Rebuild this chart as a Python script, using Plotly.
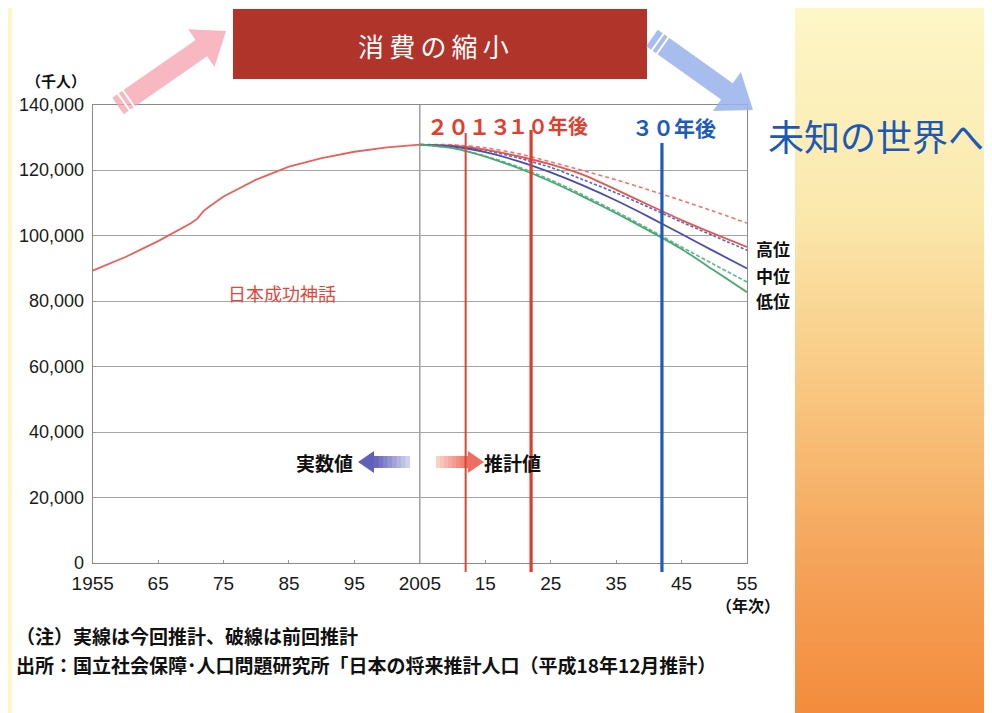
import plotly.graph_objects as go

W, H = 992, 713
OX, OY = 8, 8  # page margin of the browser around the figure

# ---------------- data ----------------
actual_years = [1955, 1960, 1965, 1970, 1971, 1972, 1973, 1974, 1975, 1980, 1985, 1990, 1995, 2000, 2005]
actual_pop = [89276, 93419, 98275, 103720, 105145, 107595, 109104, 110573, 111940, 117060, 121049,
              123611, 125570, 126926, 127768]

proj_years = [2005, 2010, 2015, 2020, 2025, 2030, 2035, 2040, 2045, 2050, 2055]
high_now = [127768, 127400, 126200, 124200, 121700, 118500, 114000, 109300, 104700, 100500, 96500]
mid_now = [127768, 127176, 125430, 122735, 119270, 115224, 110679, 105695, 100443, 95152, 89930]
low_now = [127768, 126700, 124100, 120600, 116500, 111800, 106800, 101500, 95900, 89300, 82700]
high_prev = [127800, 127700, 126800, 125000, 122500, 119800, 117000, 113900, 110700, 107300, 103800]
mid_prev = [127700, 127400, 126000, 123700, 120800, 117000, 113000, 108600, 104100, 99800, 95500]
low_prev = [127700, 126700, 124300, 121000, 117000, 112300, 107300, 102000, 96500, 91100, 85800]

marker_years = [2012, 2022, 2042]
divider_year = 2005

xtick_vals = [1955, 1965, 1975, 1985, 1995, 2005, 2015, 2025, 2035, 2045, 2055]
xtick_text = ["1955", "65", "75", "85", "95", "2005", "15", "25", "35", "45", "55"]
ytick_vals = [0, 20000, 40000, 60000, 80000, 100000, 120000, 140000]

# ---------------- helpers ----------------
def PX(x):
    return (x - OX) / W


def PY(y):
    return 1 - (y - OY) / H


def poly_path(points):
    s = "M " + " L ".join(f"{PX(x):.5f},{PY(y):.5f}" for x, y in points) + " Z"
    return s


def arrow_points(tail, tip, shw, hhw, hl):
    tx, ty = tail
    hx, hy = tip
    dx, dy = hx - tx, hy - ty
    L = (dx * dx + dy * dy) ** 0.5
    ux, uy = dx / L, dy / L
    nx, ny = -uy, ux
    bx, by = hx - ux * hl, hy - uy * hl
    return [
        (tx + nx * shw, ty + ny * shw),
        (bx + nx * shw, by + ny * shw),
        (bx + nx * hhw, by + ny * hhw),
        (hx, hy),
        (bx - nx * hhw, by - ny * hhw),
        (bx - nx * shw, by - ny * shw),
        (tx - nx * shw, ty - ny * shw),
    ]


def lerp_color(c1, c2, t):
    return "rgb(%d,%d,%d)" % tuple(round(a + (b - a) * t) for a, b in zip(c1, c2))


shapes = []
annotations = []

# ---------------- background ----------------
yellow = "#fcf8c6"
shapes.append(dict(type="rect", xref="paper", yref="paper", x0=PX(0), x1=PX(12), y0=PY(H + 10), y1=PY(0),
                   fillcolor=yellow, line_width=0, layer="below"))
shapes.append(dict(type="rect", xref="paper", yref="paper", x0=PX(0), x1=PX(796), y0=PY(4), y1=PY(0),
                   fillcolor=yellow, line_width=0, layer="below"))

stops = [(0.0, (253, 247, 200)), (0.3, (251, 232, 172)), (0.55, (248, 198, 128)),
         (0.8, (245, 162, 88)), (1.0, (243, 140, 60))]


def grad(t):
    for (t0, c0), (t1, c1) in zip(stops[:-1], stops[1:]):
        if t <= t1:
            return lerp_color(c0, c1, (t - t0) / (t1 - t0))
    return lerp_color(stops[-1][1], stops[-1][1], 0)


n_strips = 90
for i in range(n_strips):
    y0 = H * i / n_strips
    y1 = H * (i + 1) / n_strips + 0.8
    shapes.append(dict(type="rect", xref="paper", yref="paper", x0=PX(795), x1=PX(W + 10),
                       y0=PY(y1 if i < n_strips - 1 else H + 10), y1=PY(y0),
                       fillcolor=grad((i + 0.5) / n_strips), line_width=0, layer="below"))

# ---------------- title box and big arrows ----------------
shapes.append(dict(type="rect", xref="paper", yref="paper", x0=PX(233), x1=PX(647),
                   y0=PY(79), y1=PY(9), fillcolor="#b1342b", line_width=0, layer="above"))

pink_pts = arrow_points((118, 106), (226, 31), 10, 23, 30)
shapes.append(dict(type="path", xref="paper", yref="paper", path=poly_path(pink_pts),
                   fillcolor="rgba(244,160,172,0.75)", line_width=0, layer="above"))
blue_pts = arrow_points((652, 38), (753, 110), 10, 24, 32)
shapes.append(dict(type="path", xref="paper", yref="paper", path=poly_path(blue_pts),
                   fillcolor="rgba(150,178,234,0.85)", line_width=0, layer="above"))


# stripes at arrow tails
def stripe(tail, tip, d, hw):
    tx, ty = tail
    hx, hy = tip
    dx, dy = hx - tx, hy - ty
    L = (dx * dx + dy * dy) ** 0.5
    ux, uy = dx / L, dy / L
    nx, ny = -uy, ux
    cx, cy = tx + ux * d, ty + uy * d
    return dict(type="line", xref="paper", yref="paper",
                x0=PX(cx + nx * hw), y0=PY(cy + ny * hw), x1=PX(cx - nx * hw), y1=PY(cy - ny * hw),
                line=dict(color="white", width=2), layer="above")


for d in (7, 13):
    shapes.append(stripe((118, 106), (226, 31), d, 12))
    shapes.append(stripe((652, 38), (753, 110), d, 12))

# ---------------- small arrows (実数値 / 推計値) ----------------
def grad_arrow(tail_x, tip_x, yc, c_tail, c_head, shw=6, hhw=11, hl=16, nseg=8):
    direction = 1 if tip_x > tail_x else -1
    base_x = tip_x - direction * hl
    for i in range(nseg):
        xa = tail_x + (base_x - tail_x) * i / nseg
        xb = tail_x + (base_x - tail_x) * (i + 1) / nseg + direction * 0.6
        col = lerp_color(c_tail, c_head, (i + 0.5) / nseg)
        shapes.append(dict(type="rect", xref="paper", yref="paper", x0=PX(min(xa, xb)),
                           x1=PX(max(xa, xb)), y0=PY(yc + shw), y1=PY(yc - shw),
                           fillcolor=col, line_width=0, layer="above"))
    pts = [(base_x, yc - hhw), (tip_x, yc), (base_x, yc + hhw)]
    shapes.append(dict(type="path", xref="paper", yref="paper", path=poly_path(pts),
                       fillcolor=lerp_color(c_tail, c_head, 1.0), line_width=0, layer="above"))


grad_arrow(410, 358, 462, (215, 215, 242), (96, 96, 184))
grad_arrow(436, 484, 462, (251, 214, 206), (238, 110, 100))

# ---------------- divider and marker lines ----------------
shapes.append(dict(type="line", xref="x", yref="paper", x0=divider_year, x1=divider_year,
                   y0=PY(563), y1=PY(104.5), line=dict(color="#6e6e6e", width=1), layer="below"))

marker_styles = [("#e0442f", 2, 133), ("#dd3d2b", 3.2, 130), ("#1c5cbc", 3.2, 143)]
for yr, (col, wid, top) in zip(marker_years, marker_styles):
    shapes.append(dict(type="line", xref="x", yref="paper", x0=yr, x1=yr,
                       y0=PY(572), y1=PY(top), line=dict(color=col, width=wid), layer="above"))

# ---------------- traces ----------------
fig = go.Figure()

series = [
    (high_prev, "#f0746a", "4px,3px", 1.6),
    (mid_prev, "#5564c4", "3px,2px", 1.6),
    (low_prev, "#5db887", "4px,2px", 1.6),
    (high_now, "#e8554b", None, 1.8),
    (mid_now, "#4a4cb4", None, 1.8),
    (low_now, "#4aa873", None, 1.8),
]
for vals, col, dash, wid in series:
    fig.add_trace(go.Scatter(x=proj_years, y=vals, mode="lines",
                             line=dict(color=col, width=wid, dash=dash, shape="spline", smoothing=0.6),
                             hoverinfo="skip", showlegend=False))

fig.add_trace(go.Scatter(x=actual_years, y=actual_pop, mode="lines",
                         line=dict(color="#e9625a", width=1.8),
                         hoverinfo="skip", showlegend=False))

# ---------------- annotations ----------------
CJK = "Noto Sans CJK JP"


def ann(text, x, y, size, color="#111", bold=False, xanchor="center", font=CJK):
    if bold:
        text = "<b>" + text + "</b>"
    annotations.append(dict(text=text, x=PX(x), y=PY(y), xref="paper", yref="paper",
                            xanchor=xanchor, yanchor="middle", showarrow=False,
                            font=dict(family=font, size=size, color=color)))


ann("消\u2009費\u2009の\u2009縮\u2009小", 433, 45, 26, color="white")
ann("未知の世界へ", 876, 135, 36, color="#1b58b8")
ann("（千人）", 56, 80, 15, bold=True)
ann("２０１３", 513, 126, 21, color="#e0402e", bold=True, xanchor="right")
ann("１０年後", 506, 126, 20, color="#e0402e", bold=True, xanchor="left")
ann("３０年後", 630, 127, 21, color="#1c5cbc", bold=True, xanchor="left")
ann("日本成功神話", 282, 293, 18, color="#e2463c")
ann("実数値", 324, 462, 19, bold=True)
ann("推計値", 513, 462, 19, bold=True)
ann("高位", 773, 248, 17, bold=True)
ann("中位", 773, 275, 17, bold=True)
ann("低位", 773, 300, 17, bold=True)
ann("（年次）", 748, 605, 16, bold=True)
ann("（注）実線は今回推計、破線は前回推計", 14, 635, 19, bold=True, xanchor="left")
ann("出所：国立社会保障･人口問題研究所「日本の将来推計人口（平成18年12月推計）", 14, 664, 19,
    bold=True, xanchor="left")

# ---------------- layout ----------------
fig.update_layout(
    width=W, height=H,
    margin=dict(l=0, r=0, t=0, b=0, autoexpand=False),
    paper_bgcolor="white",
    plot_bgcolor="rgba(0,0,0,0)",
    showlegend=False,
    shapes=shapes,
    annotations=annotations,
    xaxis=dict(
        domain=[PX(92.7), PX(747)],
        range=[1955, 2055],
        tickvals=xtick_vals, ticktext=xtick_text,
        showgrid=False, zeroline=False,
        showline=True, linecolor="#8a8a8a", linewidth=1, mirror=True,
        ticks="inside", ticklen=3, tickcolor="#999",
        tickfont=dict(family="Liberation Sans", size=19, color="#1a1a1a"),
        ticklabelstandoff=3,
        automargin=False,
        fixedrange=True,
    ),
    yaxis=dict(
        domain=[PY(563), PY(104.5)],
        range=[0, 140000],
        tickvals=ytick_vals, tickformat=",d",
        showgrid=True, gridcolor="#a4a4a4", gridwidth=1, zeroline=False,
        showline=True, linecolor="#8a8a8a", linewidth=1, mirror=True,
        ticks="inside", ticklen=3, tickcolor="#999",
        tickfont=dict(family="Liberation Sans", size=18, color="#1a1a1a"),
        ticklabelstandoff=4,
        automargin=False,
        fixedrange=True,
    ),
)

fig.write_html("out.html")
